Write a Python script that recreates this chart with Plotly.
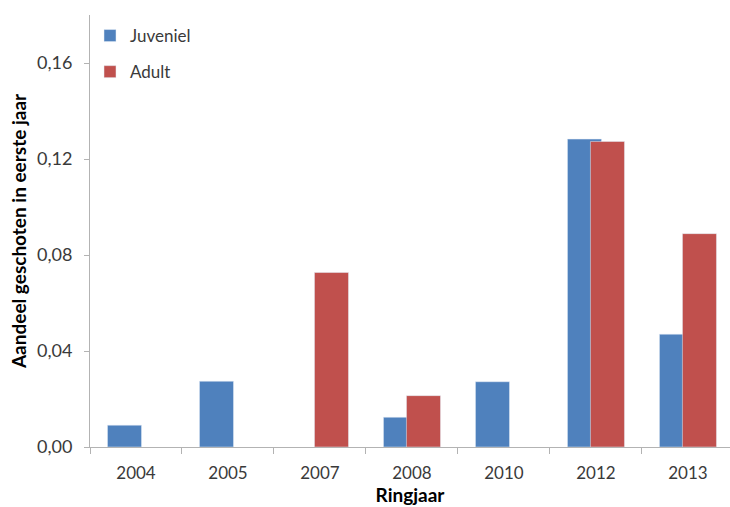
import plotly.graph_objects as go

years = ["2004", "2005", "2007", "2008", "2010", "2012", "2013"]
juveniel = [0.0091, 0.0274, None, 0.0124, 0.0272, 0.1283, 0.0470]
adult = [None, None, 0.0727, 0.0214, None, 0.1273, 0.0889]

BLUE = "#4F81BD"
RED = "#C0504D"
FONT = "Lato"

fig = go.Figure()
fig.add_trace(go.Bar(x=years, y=juveniel, name="Juveniel", marker_color=BLUE,
                     width=0.37, offset=-0.31, legendgroup="j"))
fig.add_trace(go.Bar(x=years, y=adult, name="Adult", marker_color=RED,
                     width=0.37, offset=-0.06, legendgroup="a"))

fig.update_layout(
    width=730, height=507,
    margin=dict(l=90, r=0, t=15, b=60),
    barmode="overlay",
    separators=",.",
    plot_bgcolor="white", paper_bgcolor="white",
    font=dict(family=FONT, size=17, color="#3a3a3a"),
    legend=dict(x=0.0, y=1.0 - 3 / 432, xanchor="left", yanchor="top",
                bgcolor="rgba(0,0,0,0)", tracegroupgap=11,
                font=dict(family=FONT, size=17, color="#3a3a3a")),
    xaxis=dict(type="category", range=[-0.5, 6.457], showline=True,
               linecolor="#b3b3b3", linewidth=1, ticks="outside",
               tickson="boundaries", ticklen=6, tickcolor="#b3b3b3",
               ticklabelstandoff=11,
               showgrid=False,
               title=dict(text="Ringjaar", standoff=5,
                          font=dict(family=FONT, size=19, color="black", weight="bold"))),
    yaxis=dict(range=[0, 0.18], tickvals=[0, 0.04, 0.08, 0.12, 0.16],
               tickformat=".2f", showline=True, linecolor="#b3b3b3",
               linewidth=1, ticks="outside", ticklen=5, tickcolor="#b3b3b3",
               ticklabelstandoff=8, tickfont=dict(size=18),
               showgrid=False, zeroline=False,
               title=dict(text="Aandeel geschoten in eerste jaar", standoff=5,
                          font=dict(family=FONT, size=19, color="black", weight="bold"))),
)

fig.write_html("out.html")
